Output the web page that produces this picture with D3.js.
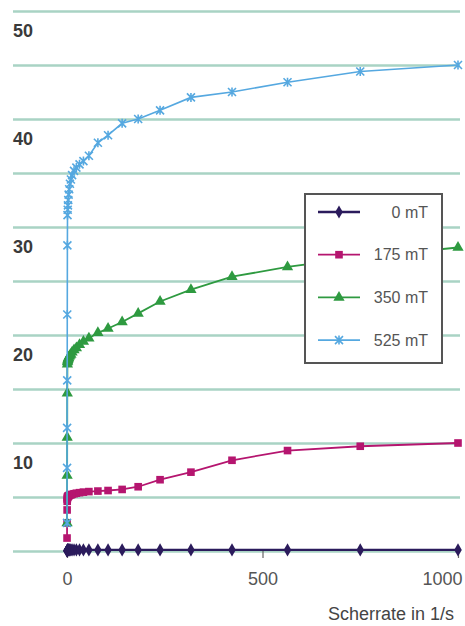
<!DOCTYPE html>
<html><head><meta charset="utf-8">
<script src="https://cdn.jsdelivr.net/npm/d3@7"></script>
<style>body{margin:0;background:#fff}svg{display:block}</style>
</head><body><svg id="c" width="465" height="626"></svg>
<script>
// ---- data ----
const shearRate = [0.1,0.2,0.3,0.5,0.7,1,1.3,1.8,2.4,3.2,4.2,5.6,7.5,10,13,18,24,32,42,56,79,105,141,182,238,317,422,564,750,1000];
const mT0   = [0,0,0,0.05,0.05,0.1,0.1,0.1,0.1,0.1,0.1,0.1,0.1,0.1,0.1,0.1,0.1,0.1,0.1,0.1,0.1,0.1,0.1,0.1,0.1,0.1,0.1,0.1,0.1,0.1];
const mT175 = [1.2,2.6,3.8,4.6,4.8,4.9,5.0,5.0,5.05,5.1,5.1,5.15,5.2,5.2,5.25,5.3,5.35,5.4,5.45,5.5,5.55,5.6,5.7,5.95,6.6,7.3,8.4,9.3,9.7,10.0];
const mT350 = [null,2.6,7.0,10.5,14.6,17.3,17.5,17.6,17.7,17.8,17.9,18.0,18.1,18.2,18.4,18.6,18.8,19.1,19.4,19.7,20.2,20.6,21.2,22.0,23.1,24.2,25.4,26.3,27.2,28.1];
const mT525 = [2.6,7.7,11.4,15.8,21.9,28.3,31.1,31.6,32.0,32.5,33.0,33.5,34.0,34.4,34.8,35.2,35.5,35.8,36.1,36.6,37.8,38.5,39.6,40.0,40.8,42.0,42.5,43.4,44.4,45.0];
const seriesNames = ["0 mT","175 mT","350 mT","525 mT"];
const gridTicks = [0,5,10,15,20,25,30,35,40,45,50];
const yLabelTicks = [10,20,30,40,50];
const xTicks = [0,500,1000];
const xTitle = "Scherrate in 1/s";

// ---- drawing ----
const svg = d3.select("#c");
const x = d3.scaleLinear().domain([0,1000]).range([67,458]);
const y = d3.scaleLinear().domain([0,50]).range([551,11]);
const font = "'Liberation Sans','DejaVu Sans',sans-serif";

// grid lines
const grid = svg.append("g").attr("transform","translate(13,0)")
  .call(d3.axisRight(y).tickValues(gridTicks).tickSize(447).tickFormat(""));
grid.select(".domain").remove();
grid.selectAll("line").attr("stroke","#a9d3c4").attr("stroke-width",2.5);

// y labels (sit below their grid line, as in the original)
const yl = svg.append("g").attr("transform","translate(13,0)")
  .call(d3.axisRight(y).tickValues(yLabelTicks).tickSize(0).tickPadding(0));
yl.select(".domain").remove();
yl.selectAll("text").attr("x",0).attr("dy",null).attr("y",25)
  .attr("text-anchor","start").attr("font-family",font).attr("font-size",18)
  .attr("font-weight","bold").attr("fill","#3a3a3a");

// x axis
const xa = svg.append("g").attr("transform","translate(0,551)")
  .call(d3.axisBottom(x).tickValues(xTicks).tickSize(7).tickFormat(d3.format("d")));
xa.select(".domain").remove();
xa.selectAll("line").attr("stroke","#666").attr("stroke-width",1.2);
xa.selectAll("text").attr("y",34).attr("dy",null).attr("font-family",font)
  .attr("font-size",18).attr("fill","#555");
xa.selectAll("text").filter(d => d === 1000).attr("text-anchor","end").attr("x",4);

svg.append("text").attr("x",454).attr("y",620).attr("text-anchor","end")
  .attr("font-family",font).attr("font-size",18).attr("fill","#444").text(xTitle);

// series
const starPath = "M-4,-4L4,4M-4,4L4,-4M0,-4.5L0,4.5";
const series = [
  {name: seriesNames[0], values: mT0,   color:"#2b1b5c", width:2.4, sym:d3.symbol(d3.symbolDiamond,50)()},
  {name: seriesNames[1], values: mT175, color:"#b5156f", width:1.8, sym:d3.symbol(d3.symbolSquare,58)()},
  {name: seriesNames[2], values: mT350, color:"#2e9a40", width:1.8, sym:d3.symbol(d3.symbolTriangle,55)()},
  {name: seriesNames[3], values: mT525, color:"#55a8e0", width:1.6, sym:starPath, stroke:true}
];

const line = d3.line().defined(d => d.v != null).x(d => x(d.s)).y(d => y(d.v));

series.forEach(s => {
  const pts = shearRate.map((sv,i) => ({s:sv, v:s.values[i]})).filter(d => d.v != null);
  const g = svg.append("g");
  g.append("path").datum(pts).attr("d",line).attr("fill","none")
    .attr("stroke",s.color).attr("stroke-width",s.width);
  g.selectAll("path.m").data(pts).join("path").attr("class","m")
    .attr("transform",d => `translate(${x(d.s)},${y(d.v)})`)
    .attr("d",s.sym)
    .attr("fill",s.stroke ? "none" : s.color)
    .attr("stroke",s.stroke ? s.color : "none")
    .attr("stroke-width",s.stroke ? 1.6 : 0);
});

// legend
const lg = svg.append("g");
lg.append("rect").attr("x",305).attr("y",194).attr("width",137).attr("height",169)
  .attr("fill","#fff").attr("stroke","#555").attr("stroke-width",2);
series.forEach((s,i) => {
  const ly = 212 + i*42.7;
  lg.append("line").attr("x1",318).attr("x2",360).attr("y1",ly).attr("y2",ly)
    .attr("stroke",s.color).attr("stroke-width",s.width);
  lg.append("path").attr("transform",`translate(339,${ly})`).attr("d",s.sym)
    .attr("fill",s.stroke ? "none" : s.color)
    .attr("stroke",s.stroke ? s.color : "none")
    .attr("stroke-width",s.stroke ? 1.6 : 0);
  lg.append("text").attr("x",428).attr("y",ly).attr("dy","0.36em")
    .attr("text-anchor","end").attr("font-family",font).attr("font-size",16)
    .attr("fill","#555").text(s.name);
});
</script></body></html>
